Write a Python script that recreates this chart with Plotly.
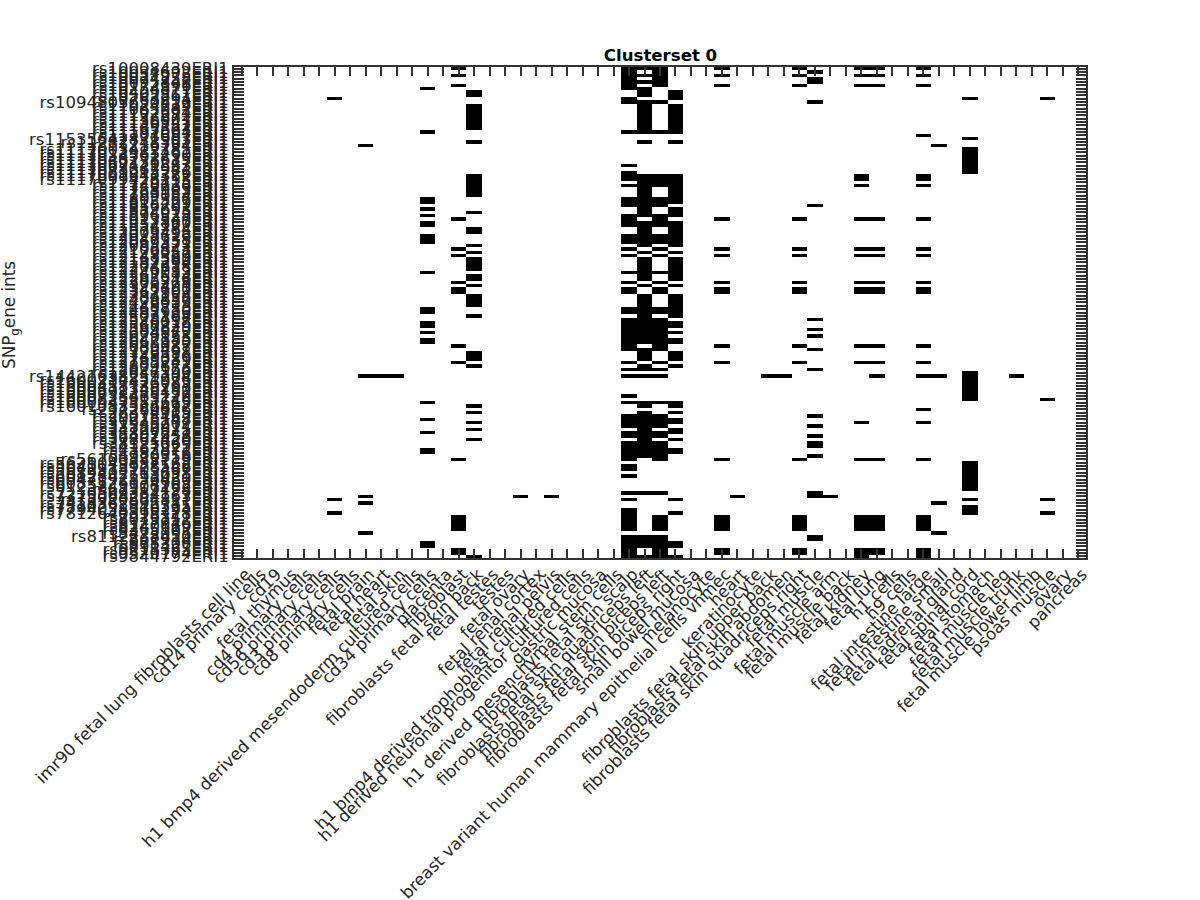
import plotly.graph_objects as go

tissues = [
    "imr90 fetal lung fibroblasts cell line", "cd14 primary cells", "cd19", "fetal thymus",
    "cd4 primary cells", "cd56 primary cells", "cd3 primary cells", "cd8 primary cells",
    "fetal brain", "fetal heart", "fetal skin", "h1 bmp4 derived mesendoderm cultured cells",
    "cd34 primary cells", "placenta", "fibroblast", "fibroblasts fetal skin back",
    "fetal testes", "testes", "fetal ovary", "fetal renal cortex", "fetal renal pelvis",
    "h1 bmp4 derived trophoblast cultured cells", "h1 derived neuronal progenitor cultured cells",
    "gastric mucosa", "h1 derived mesenchymal stem cells", "fibroblasts fetal skin scalp",
    "fibroblasts fetal skin quadriceps left", "fibroblasts fetal skin biceps left",
    "fibroblasts fetal skin biceps right", "small bowel mucosa", "melanocyte",
    "breast variant human mammary epithelial cells vhmec", "heart", "keratinocyte",
    "fibroblasts fetal skin upper back", "fibroblasts fetal skin abdomen",
    "fibroblasts fetal skin quadriceps right", "fetal muscle", "fetal muscle arm",
    "fetal muscle back", "fetal kidney", "fetal lung", "h1 cells", "h9 cells",
    "fetal intestine large", "fetal intestine small", "fetal adrenal gland", "fetal spinal cord",
    "fetal stomach", "fetal muscle leg", "fetal muscle trunk", "fetal muscle lower limb",
    "psoas muscle", "ovary", "pancreas",
]

snps = [
    "rs10008439", "rs10034692", "rs10051975", "rs10074258", "rs10095843", "rs10172396", "rs10254871",
    "rs10409517", "rs10502861", "rs10763294", "rs1094803650612", "rs11024739", "rs11065987",
    "rs11102694", "rs11122272", "rs11136001", "rs11136347", "rs11149252", "rs11165563", "rs11187064",
    "rs11204681", "rs11535642871903", "rs11282748391", "rs11236794", "rs1117003412785", "rs1117012983461",
    "rs1117034561290", "rs1117048273615", "rs1117059136247", "rs1117067421583", "rs1117078362941",
    "rs1117083915276", "rs1117091647382", "rs1117099428153", "rs11729415", "rs11740236", "rs11758903",
    "rs11763182", "rs11789054", "rs11802367", "rs11815429", "rs11836701", "rs11852693", "rs11874015",
    "rs11896328", "rs11913547", "rs11937860", "rs11954172", "rs11976284", "rs12003495", "rs12028716",
    "rs12047938", "rs12069351", "rs12085472", "rs12106843", "rs12129057", "rs12148369", "rs12163580",
    "rs12187294", "rs12204618", "rs12226735", "rs12249083", "rs12267514", "rs12285946", "rs12306278",
    "rs12328491", "rs12345760", "rs12367902", "rs12384156", "rs12409837", "rs12426059", "rs12448213",
    "rs12465780", "rs12487936", "rs12503164", "rs12528497", "rs12546018", "rs12567329", "rs12589640",
    "rs12604872", "rs12629153", "rs12647385", "rs12668920", "rs12685037", "rs12709461", "rs12726398",
    "rs12748516", "rs12763089", "rs12785241", "rs12809673", "rs12824156", "rs12847390",
    "rs14421638259704", "rs1600234851976", "rs1600317426085", "rs1600458139267", "rs1600572346180",
    "rs1600691258437", "rs1600738465129", "rs1600825913746", "rs1600947382615", "rs1601083526497",
    "rs237260986", "rs28374915", "rs29018462", "rs30275148", "rs31946207", "rs33582914", "rs34120675",
    "rs35897241", "rs36402958", "rs37861420", "rs38125069", "rs4137925", "rs4362871", "rs4782016", "rs4920358",
    "rs56100382719", "rs5621049837162", "rs5640173928546", "rs5672938105467", "rs5689402713658",
    "rs6012847593021", "rs6047192836450", "rs6083526174902", "rs6125843907162", "rs67319428",
    "rs7210569384127", "rs7375068294163", "rs73920564817", "rs7418362095741", "rs7530291846325",
    "rs7794058316294", "rs7812640395178", "rs7926341", "rs8013752", "rs8127946", "rs8240619", "rs8365102",
    "rs8472095", "rs8112238450", "rs862914", "rs875306", "rs891427", "rs9218365", "rs9520174", "rs9844792",
]
row_labels = [s + "ERI1" for s in snps]
assert len(row_labels) == 147, len(row_labels)

active_6 = [9, 129, 133]
active_8 = [23, 92, 128, 130, 139]
active_9 = [92]
active_10 = [92]
active_12 = [6, 19, 39, 40, 42, 44, 46, 47, 50, 51, 52, 61, 72, 73, 76, 77, 79, 81, 82, 100, 105, 109,
             114, 115, 142, 143]
active_14 = [0, 2, 5, 45, 54, 56, 64, 66, 67, 83, 88, 117, 134, 135, 136, 137, 138, 144, 145]
active_15 = [7, 8, 11, 12, 13, 14, 15, 16, 17, 18, 22, 32, 33, 34, 35, 36, 37, 38, 43, 48, 49, 53, 55,
             57, 58, 59, 60, 62, 63, 65, 68, 69, 70, 71, 74, 85, 86, 87, 89, 101, 103, 106, 108, 111, 146]
active_18 = [128]
active_20 = [128]
active_25 = [0, 1, 2, 3, 4, 5, 6, 9, 10, 19, 29, 31, 32, 33, 35, 39, 40, 41, 44, 45, 46, 47, 50, 51, 52,
             54, 56, 61, 64, 66, 67, 72, 73, 75, 76, 77, 78, 79, 80, 81, 82, 83, 84, 88, 90, 92, 98, 100,
             104, 105, 106, 107, 109, 110, 112, 113, 114, 115, 116, 117, 119, 120, 122, 127, 129,
             132, 133, 134, 135, 136, 137, 138, 140, 141, 142, 143, 144, 145, 146]
active_26 = [0, 2, 4, 6, 7, 8, 10, 11, 12, 13, 14, 15, 16, 17, 18, 19, 22, 32, 33, 34, 35, 36, 37, 38, 39,
             40, 41, 42, 43, 44, 46, 47, 48, 49, 50, 51, 52, 53, 55, 57, 58, 59, 60, 61, 62, 63, 65, 68,
             69, 70, 71, 72, 73, 74, 75, 76, 77, 78, 79, 80, 81, 82, 84, 85, 86, 87, 89, 90, 92, 100, 101,
             103, 104, 105, 106, 107, 108, 109, 110, 111, 112, 113, 114, 115, 116, 127,
             140, 141, 142, 143, 146]
active_27 = [0, 1, 2, 3, 4, 5, 10, 19, 32, 33, 34, 35, 39, 40, 41, 44, 45, 46, 47, 50, 51, 52, 54, 56, 61,
             64, 66, 67, 72, 73, 75, 76, 77, 78, 79, 80, 81, 82, 83, 84, 88, 90, 92, 100, 104, 105, 106,
             107, 109, 110, 112, 113, 114, 115, 116, 117, 127, 134, 135, 136, 137, 138,
             140, 141, 142, 143, 144, 145, 146]
active_28 = [7, 8, 9, 11, 12, 13, 14, 15, 16, 17, 18, 19, 22, 32, 33, 34, 35, 36, 37, 38, 39, 40, 42, 43,
             44, 46, 47, 48, 49, 50, 51, 52, 53, 55, 57, 58, 59, 60, 61, 62, 63, 65, 68, 69, 70, 71, 72,
             73, 74, 76, 77, 79, 81, 82, 85, 86, 87, 89, 100, 101, 103, 105, 106, 108, 109, 111, 114, 115,
             129, 133, 142, 143, 146]
active_31 = [0, 2, 5, 45, 54, 56, 64, 66, 67, 83, 88, 117, 134, 135, 136, 137, 138, 144, 145]
active_32 = [128]
active_34 = [92]
active_35 = [92]
active_36 = [0, 2, 5, 45, 54, 56, 64, 66, 67, 83, 88, 117, 134, 135, 136, 137, 138, 144, 145]
active_37 = [1, 3, 4, 10, 41, 75, 78, 80, 84, 90, 104, 107, 110, 112, 113, 116, 127, 128, 140, 141]
active_38 = [128]
active_40 = [0, 2, 5, 32, 33, 35, 45, 54, 56, 64, 66, 67, 83, 88, 106, 117, 134, 135, 136, 137, 138,
             144, 145, 146]
active_41 = [0, 2, 5, 45, 54, 56, 64, 66, 67, 83, 88, 92, 117, 134, 135, 136, 137, 138, 144, 145]
active_44 = [0, 2, 5, 20, 32, 33, 35, 45, 54, 56, 64, 66, 67, 83, 88, 92, 102, 106, 117, 134, 135, 136,
             137, 138, 144, 145, 146]
active_45 = [23, 92, 130, 139]
active_47 = [9, 21, 24, 25, 26, 27, 28, 29, 30, 31, 91, 92, 93, 94, 95, 96, 97, 98, 99, 118, 119, 120,
             121, 122, 123, 124, 125, 126, 129, 131, 132, 133]
active_50 = [92]
active_52 = [9, 99, 129, 133]

columns_active = {
    6: active_6, 8: active_8, 9: active_9, 10: active_10, 12: active_12, 14: active_14, 15: active_15,
    18: active_18, 20: active_20, 25: active_25, 26: active_26, 27: active_27, 28: active_28,
    31: active_31, 32: active_32, 34: active_34, 35: active_35, 36: active_36, 37: active_37,
    38: active_38, 40: active_40, 41: active_41, 44: active_44, 45: active_45, 47: active_47,
    50: active_50, 52: active_52,
}

n_rows, n_cols = len(row_labels), len(tissues)
z = [[0] * n_cols for _ in range(n_rows)]
for col, rows in columns_active.items():
    for row in rows:
        z[row][col] = 1

TXT = "#262626"
LINE = "#333333"

fig = go.Figure(go.Heatmap(
    z=z, x=list(range(n_cols)), y=list(range(n_rows)),
    colorscale=[[0, "#ffffff"], [1, "#000000"]], zmin=0, zmax=1,
    showscale=False,
))

fig.update_layout(
    width=1200, height=900,
    margin=dict(l=234, r=114, t=67, b=342, pad=0),
    paper_bgcolor="white", plot_bgcolor="white",
    font=dict(family="DejaVu Sans", color=TXT, size=16.5),
    title=dict(text="<b>Clusterset 0</b>", x=660.5 / 1200, xanchor="center", y=1 - 55 / 900, yanchor="middle",
               font=dict(family="DejaVu Sans", color="#000000", size=16.6)),
    annotations=[dict(
        text="SNP<sub>g</sub>ene ints", textangle=-90, showarrow=False,
        xref="paper", yref="paper", x=-223 / 852, y=0.495, xanchor="center", yanchor="middle",
        font=dict(family="DejaVu Sans", color=TXT, size=16.8),
    )],
)
fig.update_xaxes(
    range=[-0.5, n_cols - 0.5], tickmode="array", tickvals=list(range(n_cols)), ticktext=tissues,
    tickangle=-45, ticks="inside", ticklen=9, tickwidth=1.5, tickcolor=LINE,
    ticklabelstandoff=-2, ticklabelshift=4, automargin=False,
    showline=True, linecolor=LINE, linewidth=2, mirror="ticks", showgrid=False, zeroline=False,
    tickfont=dict(family="DejaVu Sans", color=TXT, size=16.7),
)
fig.update_yaxes(
    range=[n_rows - 0.5, -0.5], tickmode="array", tickvals=list(range(n_rows)), ticktext=row_labels,
    ticks="inside", ticklen=10, tickwidth=2, tickcolor=LINE,
    showline=True, linecolor=LINE, linewidth=2, mirror="ticks", showgrid=False, zeroline=False,
    tickfont=dict(family="DejaVu Sans", color=TXT, size=16.5),
    automargin=False,
)
fig.write_html(
    "out.html",
    config={"displayModeBar": False},
    post_script="document.body.style.margin='0';document.documentElement.style.overflow='hidden';",
)
